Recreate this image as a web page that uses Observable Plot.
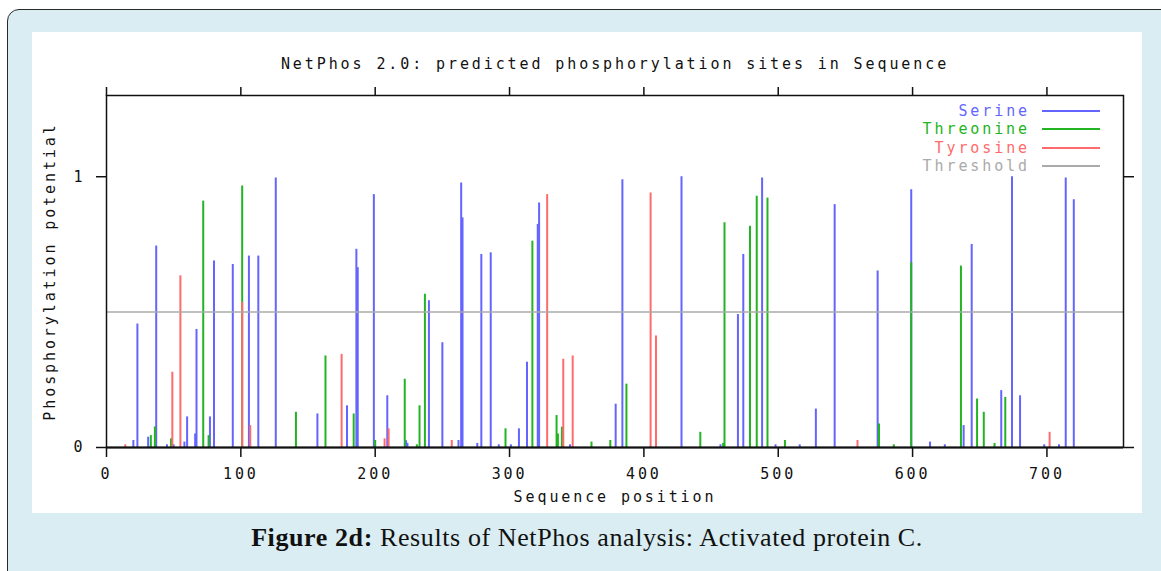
<!DOCTYPE html>
<html>
<head>
<meta charset="utf-8">
<script src="https://cdn.jsdelivr.net/npm/d3@7"></script>
<script src="https://cdn.jsdelivr.net/npm/@observablehq/plot@0.6"></script>
<style>
  html, body { margin: 0; padding: 0; background: #ffffff; }
  #page { position: relative; width: 1161px; height: 571px; overflow: hidden; }
  #box { position: absolute; left: 7px; top: 9px; width: 1175px; height: 590px;
         background: #d9edf2; border: 1.5px solid #2a2a2a; border-radius: 12px; box-sizing: border-box; }
  #panel { position: absolute; left: 32px; top: 32px; width: 1110px; height: 481px; background: #ffffff; }
  #chart { position: absolute; left: 32px; top: 32px; width: 1110px; height: 481px; }
  .leg { position: absolute; font-family: "DejaVu Sans Mono", monospace; font-size: 15px; letter-spacing: 2.9px;
         right: 131px; line-height: 16px; white-space: nowrap; }
  .legline { position: absolute; left: 1042px; width: 58px; height: 2px; }
  #caption { position: absolute; left: 32px; width: 1110px; top: 522px; text-align: center;
             font-family: "Liberation Serif", "DejaVu Serif", serif; font-size: 26px; letter-spacing: 0.6px;
             color: #111; line-height: 32px; }
</style>
</head>
<body>
<div id="page">
  <div id="box"></div>
  <div id="panel"></div>
  <div id="chart"></div>
  <div id="legend"></div>
  <div id="caption"><b>Figure 2d:</b> Results of NetPhos analysis: Activated protein C.</div>
</div>
<script>
// ---- data (sequence position, phosphorylation potential) ----
const serine = [
  [20,0.026],[23,0.456],[31,0.038],[37,0.744],[45,0.01],[50,0.01],[58,0.02],[60,0.113],
  [66,0.05],[67,0.436],[77,0.113],[80,0.689],[94,0.676],[106,0.707],[113,0.707],[126,0.995],
  [157,0.124],[179,0.154],[186,0.732],[187,0.664],[199,0.934],[209,0.191],[223,0.025],[224,0.015],
  [240,0.542],[250,0.387],[262,0.026],[264,0.977],[265,0.848],[276,0.015],[279,0.713],[286,0.719],
  [292,0.01],[301,0.01],[307,0.069],[313,0.315],[321,0.824],[322,0.903],[345,0.01],[379,0.16],
  [384,0.989],[428,1.0],[457,0.01],[470,0.491],[474,0.713],[488,0.995],[498,0.01],[516,0.01],
  [528,0.142],[542,0.897],[574,0.652],[599,0.952],[613,0.02],[624,0.01],[638,0.081],[644,0.75],
  [666,0.21],[674,1.0],[680,0.191],[698,0.01],[709,0.01],[714,0.995],[720,0.915]
];
const threonine = [
  [33,0.044],[36,0.076],[48,0.032],[72,0.91],[76,0.044],[101,0.966],[141,0.13],[163,0.338],
  [184,0.124],[200,0.026],[222,0.252],[231,0.01],[233,0.154],[237,0.566],[297,0.069],[317,0.762],
  [335,0.118],[336,0.05],[339,0.075],[361,0.02],[375,0.026],[387,0.234],[442,0.056],[459,0.015],
  [460,0.83],[479,0.817],[484,0.928],[492,0.921],[505,0.026],[575,0.087],[586,0.01],[599,0.682],
  [636,0.67],[648,0.179],[653,0.13],[661,0.015],[669,0.185]
];
const tyrosine = [
  [14,0.01],[49,0.278],[55,0.634],[101,0.536],[107,0.081],[175,0.344],[207,0.032],[210,0.069],
  [257,0.026],[328,0.934],[340,0.326],[347,0.338],[405,0.94],[409,0.412],[559,0.026],[702,0.056]
];
const residues = ["Serine", "Threonine", "Tyrosine"];
const residueColors = ["#6464ff", "#22b422", "#ff6b6b"];
const thresholdLabel = "Threshold";
const thresholdColor = "#aaaaaa";
const threshold = 0.5;
const seqLength = 757;
const xTicks = [0, 100, 200, 300, 400, 500, 600, 700];
const yTicks = [0, 1];
const titleText = "NetPhos 2.0: predicted phosphorylation sites in Sequence";
const xLabel = "Sequence position";
const yLabel = "Phosphorylation potential";

// ---- build table ----
const toRows = (arr, kind) => arr.map(([pos, score]) => ({pos, score, kind}));
const rows = [...toRows(serine, "Serine"), ...toRows(threonine, "Threonine"), ...toRows(tyrosine, "Tyrosine")];

const font = {fontFamily: "DejaVu Sans Mono, monospace", fontSize: "15px", letterSpacing: "2.9px"};

const chart = Plot.plot({
  width: 1110, height: 481,
  marginLeft: 74, marginRight: 19, marginTop: 63, marginBottom: 66,
  style: {...font, background: "transparent", color: "#111", overflow: "visible"},
  x: {domain: [0, seqLength], label: null},
  y: {domain: [0, 1.3], label: null},
  color: {domain: residues, range: residueColors},
  marks: [
    Plot.ruleX(rows, {x: "pos", y1: 0, y2: "score", stroke: "kind", strokeWidth: 2}),
    Plot.ruleY([threshold], {stroke: thresholdColor, strokeWidth: 1.5}),
    Plot.frame({stroke: "#111", strokeWidth: 1.5}),
    Plot.ruleY([0], {stroke: "#111", strokeWidth: 2}),
    Plot.axisX({ticks: xTicks, anchor: "bottom", tickSize: 10, tickPadding: 11, tickFormat: d3.format("d"), label: null, strokeWidth: 1.5}),
    Plot.axisX({ticks: xTicks, anchor: "top", tickSize: 9, tickFormat: () => "", label: null, strokeWidth: 1.5}),
    Plot.axisY({ticks: yTicks, anchor: "left", tickSize: 10, tickPadding: 11, tickFormat: d3.format("d"), label: null, strokeWidth: 1.5}),
    Plot.axisY({ticks: yTicks, anchor: "right", tickSize: 10, tickFormat: () => "", label: null, strokeWidth: 1.5}),
    Plot.text([titleText], {text: d => d, frameAnchor: "top", dy: -37, fill: "#111"}),
    Plot.text([xLabel], {text: d => d, frameAnchor: "bottom", dy: 54, fill: "#111"}),
    Plot.text([yLabel], {text: d => d, frameAnchor: "left", textAnchor: "middle", dx: -56, rotate: -90, fill: "#111"})
  ]
});
document.getElementById("chart").appendChild(chart);

// ---- legend ----
const legend = document.getElementById("legend");
const legItems = [...residues.map((r, i) => [r, residueColors[i]]), [thresholdLabel, thresholdColor]];
legItems.forEach(([name, color], i) => {
  const cy = Math.round(110.7 + i * 18.45);
  const t = document.createElement("div");
  t.className = "leg";
  t.style.top = (cy - 8) + "px";
  t.style.color = color;
  t.textContent = name;
  legend.appendChild(t);
  const l = document.createElement("div");
  l.className = "legline";
  l.style.top = (cy - 1) + "px";
  l.style.background = color;
  legend.appendChild(l);
});
</script>
</body>
</html>
